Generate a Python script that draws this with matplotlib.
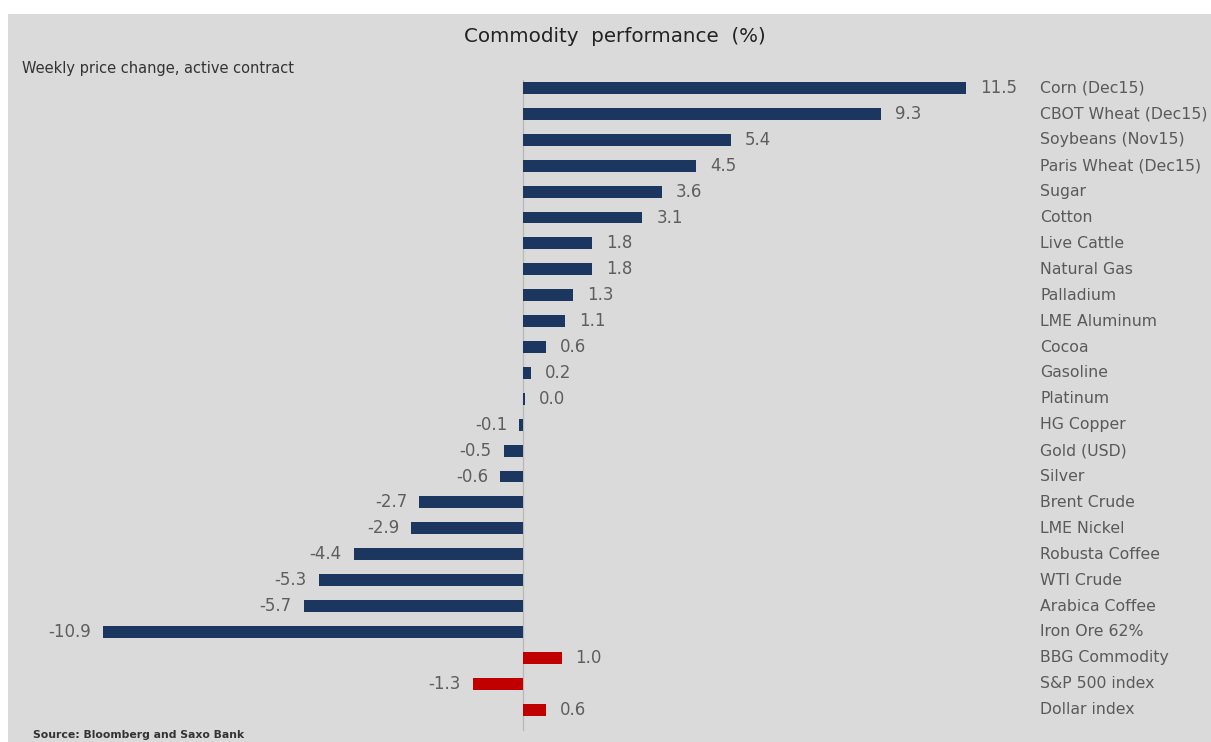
import matplotlib
matplotlib.use("Agg")
import matplotlib.pyplot as plt

categories = ["Corn (Dec15)", "CBOT Wheat (Dec15)", "Soybeans (Nov15)", "Paris Wheat (Dec15)",
              "Sugar", "Cotton", "Live Cattle", "Natural Gas", "Palladium", "LME Aluminum",
              "Cocoa", "Gasoline", "Platinum", "HG Copper", "Gold (USD)", "Silver",
              "Brent Crude", "LME Nickel", "Robusta Coffee", "WTI Crude", "Arabica Coffee",
              "Iron Ore 62%", "BBG Commodity", "S&P 500 index", "Dollar index"]
values = [11.5, 9.3, 5.4, 4.5, 3.6, 3.1, 1.8, 1.8, 1.3, 1.1, 0.6, 0.2, 0.04, -0.1, -0.5, -0.6,
          -2.7, -2.9, -4.4, -5.3, -5.7, -10.9, 1.0, -1.3, 0.6]
labels = ["11.5", "9.3", "5.4", "4.5", "3.6", "3.1", "1.8", "1.8", "1.3", "1.1", "0.6", "0.2",
          "0.0", "-0.1", "-0.5", "-0.6", "-2.7", "-2.9", "-4.4", "-5.3", "-5.7", "-10.9",
          "1.0", "-1.3", "0.6"]
groups = ["commodity"] * 22 + ["index"] * 3

W, H = 1211, 742
fig = plt.figure(figsize=(W / 100, H / 100), dpi=100)
fig.patch.set_facecolor("white")
bg = "#dadada"

ax = fig.add_axes([8 / W, 0, 1 - 8 / W, 1 - 14 / H])
ax.set_facecolor(bg)
x0 = 523.0
scale = 38.5
ax.set_xlim((8 - x0) / scale, (W - x0) / scale)
y0, dy = 88.0, 25.9
ax.set_ylim((H - y0) / dy, (14 - y0) / dy)
for s in ax.spines.values():
    s.set_visible(False)
ax.set_xticks([])
ax.set_yticks([])

colors = {"commodity": "#1b365f", "index": "#c00000"}
ypos = list(range(len(categories)))
ax.barh(ypos, values, height=0.46, color=[colors[g] for g in groups], zorder=3)
ax.plot([0, 0], [-0.3, len(categories) - 0.2], color="#b8b8b8", lw=0.9, zorder=2)

lab_x = (1040 - x0) / scale
off_pos = 14 / scale
off_neg = 12 / scale
for y, v, t, c in zip(ypos, values, labels, categories):
    if v >= 0:
        ax.text(v + off_pos, y, t, ha="left", va="center", fontsize=12, color="#5e5e5e")
    else:
        ax.text(v - off_neg, y, t, ha="right", va="center", fontsize=12, color="#5e5e5e")
    ax.text(lab_x, y, c, ha="left", va="center", fontsize=11.3, color="#5a5a5a", clip_on=True)

fig.text(615 / W, 1 - 36 / H, "Commodity  performance  (%)", ha="center", va="center",
         fontsize=14.3, color="#222222")
fig.text(22 / W, 1 - 69 / H, "Weekly price change, active contract", ha="left", va="center",
         fontsize=10.5, color="#333333")
fig.text(33 / W, 1 - 735 / H, "Source: Bloomberg and Saxo Bank", ha="left", va="center",
         fontsize=7.8, color="#333333", fontweight="bold")

fig.savefig("out.png", dpi=100, facecolor="white")
